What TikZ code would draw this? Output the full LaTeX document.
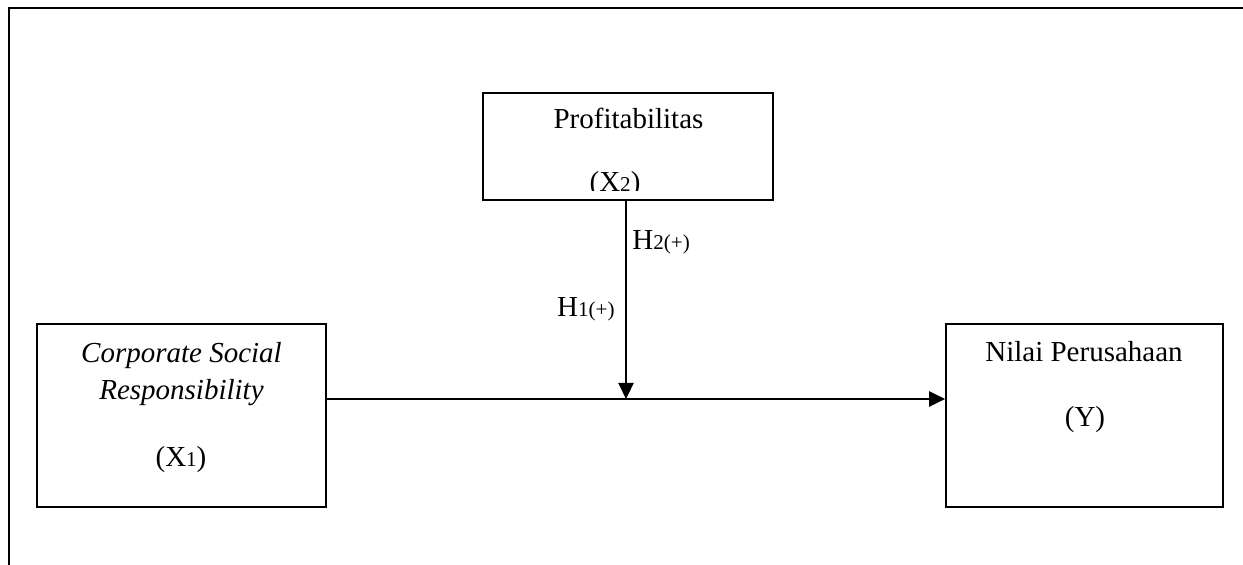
\documentclass[tikz,border=0pt]{standalone}
\usepackage{fontspec}
\setmainfont{Liberation Serif}
\usepackage{tikz}
\usetikzlibrary{arrows.meta, positioning}
\newcommand{\varfont}{\fontsize{16.5}{22}\selectfont}
\newcommand{\smallsub}[1]{{\fontsize{12}{12}\selectfont #1}}

\begin{document}
\begin{tikzpicture}[
    varbox/.style={draw, line width=0.95pt, minimum width=5.8cm, inner sep=0pt},
    lbl/.style={anchor=base, inner sep=0pt, font=\varfont},
    link/.style={line width=1.3pt, -{Triangle[length=0.32cm, width=0.3cm]}}
  ]
  \useasboundingbox (0,0) rectangle (24.86,11.30);

  % Frame
  \draw[line width=1.3pt] (0.18,0) -- (0.18,11.14) -- (24.86,11.14);

  % Profitabilitas
  \node[varbox, minimum height=2.14cm] (x2) at (12.56,8.37) {};
  \node[lbl] (x2name) at (12.57,8.72) {Profitabilitas};
  \begin{scope}
    \clip ([yshift=0.2cm]x2.south west) rectangle (x2.north east);
    \node[lbl] (x2sym) at (12.30,7.46) {(X\smallsub{2})};
  \end{scope}

  % Corporate Social Responsibility
  \node[varbox, minimum width=5.78cm, minimum height=3.66cm] (x1) at (3.63,2.99) {};
  \node[lbl] (x1name1) at (3.63,4.04) {\textit{Corporate Social}};
  \node[lbl] (x1name2) at (3.63,3.30) {\textit{Responsibility}};
  \node[lbl] (x1sym) at (3.62,1.96) {(X\smallsub{1})};

  % Nilai Perusahaan
  \node[varbox, minimum width=5.54cm, minimum height=3.66cm] (y) at (21.69,2.99) {};
  \node[lbl] (yname) at (21.68,4.06) {Nilai Perusahaan};
  \node[lbl] (ysym) at (21.70,2.76) {(Y)};

  % Arrows
  \coordinate (meet) at (12.52,3.32);
  \draw[link] (x1.east |- meet) -- (y.west |- meet);
  \draw[link] (x2.south -| meet) -- (meet);

  % Hypotheses
  \node[lbl, anchor=base west] (h2) at (12.64,6.30) {H\smallsub{2(+)}};
  \node[lbl, anchor=base east] (h1) at (12.30,4.96) {H\smallsub{1(+)}};
\end{tikzpicture}
\end{document}
